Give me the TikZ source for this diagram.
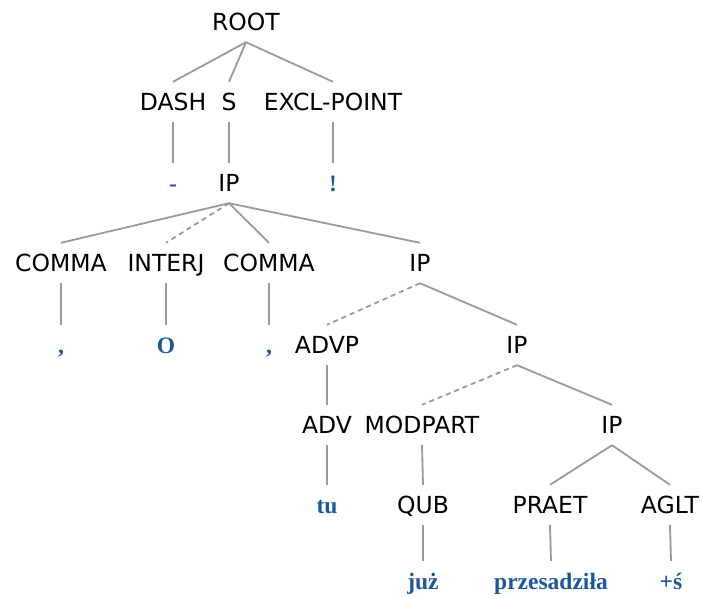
\documentclass[tikz,border=0pt]{standalone}
\usepackage{fontspec}
\newfontfamily\catfont{DejaVu Sans}
\newfontfamily\wordfont{Liberation Serif}
\usepackage{tikz}
\usetikzlibrary{positioning}
\definecolor{tbblue}{HTML}{1E56A0}
\definecolor{tbgray}{HTML}{9A9A9A}

\begin{document}
\begin{tikzpicture}[x=1pt,y=-1pt,
  cat/.style={inner sep=0pt,minimum height=40pt,text height=17pt,text depth=0pt,
    font=\catfont\fontsize{23.5}{28}\selectfont,text=black},
  word/.style={cat,font=\wordfont\bfseries\fontsize{23.5}{28}\selectfont,text=tbblue},
  br/.style={tbgray,line width=1.8pt},
  emp/.style={br,dash pattern=on 5pt off 4pt}]
  \useasboundingbox (0,0) rectangle (702,597);
  \node[cat] (root) at (246,22) {ROOT};
  \node[cat] (dash) at (173,102) {DASH};
  \node[cat] (s) at (229,102) {S};
  \node[cat] (excl) at (333,102) {EXCL-POINT};
  \node[word] (dashw) at (173,183) {-};
  \node[cat] (ipa) at (229,183) {IP};
  \node[word] (exclw) at (333,183) {!};
  \node[cat] (comma1) at (61,263) {COMMA};
  \node[cat] (interj) at (166,263) {INTERJ};
  \node[cat] (comma2) at (269,263) {COMMA};
  \node[cat] (ipb) at (420,263) {IP};
  \node[word] (commaw1) at (61,345) {,};
  \node[word] (interjw) at (166,345) {O};
  \node[word] (commaw2) at (269,345) {,};
  \node[cat] (advp) at (327,345) {ADVP};
  \node[cat] (ipc) at (517,345) {IP};
  \node[cat] (adv) at (327,425) {ADV};
  \node[cat] (modpart) at (422,425) {MODPART};
  \node[cat] (ipd) at (612,425) {IP};
  \node[word] (tu) at (327,505) {tu};
  \node[cat] (qub) at (423,505) {QUB};
  \node[cat] (praet) at (550,505) {PRAET};
  \node[cat] (aglt) at (670,505) {AGLT};
  \node[word] (juz) at (423,581) {już};
  \node[word] (przes) at (551,581) {przesadziła};
  \node[word] (aglw) at (671,581) {+ś};
  \draw[br] (root.south) -- (dash.north);
  \draw[br] (root.south) -- (s.north);
  \draw[br] (root.south) -- (excl.north);
  \draw[br] (dash.south) -- (dashw.north);
  \draw[br] (s.south) -- (ipa.north);
  \draw[br] (excl.south) -- (exclw.north);
  \draw[br] (ipa.south) -- (comma1.north);
  \draw[emp] (ipa.south) -- (interj.north);
  \draw[br] (ipa.south) -- (comma2.north);
  \draw[br] (ipa.south) -- (ipb.north);
  \draw[br] (comma1.south) -- (commaw1.north);
  \draw[br] (interj.south) -- (interjw.north);
  \draw[br] (comma2.south) -- (commaw2.north);
  \draw[emp] (ipb.south) -- (advp.north);
  \draw[br] (ipb.south) -- (ipc.north);
  \draw[br] (advp.south) -- (adv.north);
  \draw[emp] (ipc.south) -- (modpart.north);
  \draw[br] (ipc.south) -- (ipd.north);
  \draw[br] (adv.south) -- (tu.north);
  \draw[br] (modpart.south) -- (qub.north);
  \draw[br] (ipd.south) -- (praet.north);
  \draw[br] (ipd.south) -- (aglt.north);
  \draw[br] (qub.south) -- (juz.north);
  \draw[br] (praet.south) -- (przes.north);
  \draw[br] (aglt.south) -- (aglw.north);
\end{tikzpicture}
\end{document}
